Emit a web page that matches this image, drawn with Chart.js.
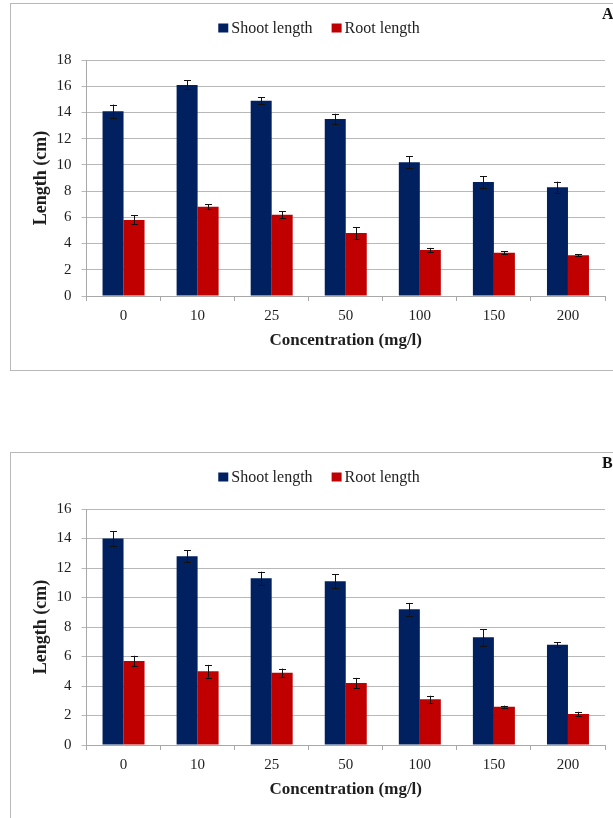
<!DOCTYPE html>
<html>
<head>
<meta charset="utf-8">
<script src="https://cdn.jsdelivr.net/npm/chart.js@4.4.1/dist/chart.umd.min.js"></script>
<style>
  html, body { margin: 0; padding: 0; background: #fff; overflow: hidden; width: 613px; height: 818px; }
  .panel { position: absolute; left: 10px; width: 616px; height: 366px; border: 1px solid #b8b8b8; background: #fff; }
  #panelA { top: 3px; }
  #panelB { top: 452px; }
  canvas { display: block; }
</style>
</head>
<body>
<div class="panel" id="panelA"><canvas id="chartA" width="616" height="366"></canvas></div>
<div class="panel" id="panelB"><canvas id="chartB" width="616" height="366"></canvas></div>
<script>
// Concentrations (mg/l)
const categories = ['0', '10', '25', '50', '100', '150', '200'];

// Panel A: mean lengths (cm) and their error margins
const shootA    = [14.1, 16.1, 14.9, 13.5, 10.2, 8.7, 8.3];
const shootAErr = [0.5, 0.35, 0.25, 0.4, 0.45, 0.43, 0.42];
const rootA     = [5.8, 6.8, 6.2, 4.8, 3.5, 3.3, 3.1];
const rootAErr  = [0.34, 0.2, 0.27, 0.46, 0.17, 0.13, 0.07];

// Panel B: mean lengths (cm) and their error margins
const shootB    = [14.0, 12.8, 11.3, 11.1, 9.2, 7.3, 6.8];
const shootBErr = [0.49, 0.42, 0.45, 0.48, 0.43, 0.56, 0.15];
const rootB     = [5.7, 5.0, 4.9, 4.2, 3.1, 2.6, 2.1];
const rootBErr  = [0.35, 0.43, 0.28, 0.35, 0.24, 0.07, 0.15];

// Value axis ranges
const yMaxA = 18;
const yMaxB = 16;
const yStep = 2;

const seriesNames = ['Shoot length', 'Root length'];
const xTitle = 'Concentration (mg/l)';
const yTitle = 'Length (cm)';

const FONT = "'Liberation Serif', 'Times New Roman', serif";
const TEXT = '#1e1e1e';
const NAVY = '#002060';
const RED = '#c00000';

// Whiskers drawn from each dataset's `errors` array
const errorBars = {
  id: 'errorBars',
  afterDatasetsDraw(chart) {
    const ctx = chart.ctx;
    const y = chart.scales.y;
    ctx.save();
    ctx.strokeStyle = '#111';
    ctx.lineWidth = 1;
    chart.data.datasets.forEach((ds, i) => {
      const meta = chart.getDatasetMeta(i);
      meta.data.forEach((bar, j) => {
        const v = ds.data[j], e = ds.errors[j];
        const x = Math.round(bar.x) + 0.5;
        const yTop = y.getPixelForValue(v + e);
        const yBot = y.getPixelForValue(v - e);
        const cap = 3.5;
        ctx.beginPath();
        ctx.moveTo(x, yTop); ctx.lineTo(x, yBot);
        ctx.moveTo(x - cap, Math.round(yTop) + 0.5); ctx.lineTo(x + cap, Math.round(yTop) + 0.5);
        ctx.moveTo(x - cap, Math.round(yBot) + 0.5); ctx.lineTo(x + cap, Math.round(yBot) + 0.5);
        ctx.stroke();
      });
    });
    ctx.restore();
  }
};

// Legend row across the top, plus the panel letter in the corner
const headerRow = {
  id: 'headerRow',
  afterDraw(chart, args, opts) {
    const ctx = chart.ctx;
    ctx.save();
    ctx.font = '16px ' + FONT;
    ctx.textBaseline = 'middle';
    const sw = 10, sh = 9, gap = 3, itemGap = 19;
    const items = chart.data.datasets.map(ds => ({
      label: ds.label, color: ds.backgroundColor, w: ctx.measureText(ds.label).width
    }));
    const total = items.reduce((s, it) => s + sw + gap + it.w, 0) + itemGap * (items.length - 1);
    let x = chart.width / 2 - total / 2;
    const cy = 24;
    items.forEach(it => {
      ctx.fillStyle = it.color;
      ctx.fillRect(x, cy - sh / 2, sw, sh);
      x += sw + gap;
      ctx.fillStyle = TEXT;
      ctx.textAlign = 'left';
      ctx.fillText(it.label, x, cy + 1);
      x += it.w + itemGap;
    });
    ctx.font = 'bold 16px ' + FONT;
    ctx.fillStyle = '#111';
    ctx.fillText(opts.letter, 591, 11);
    ctx.restore();
  }
};

function makeChart(id, shoot, shootErr, root, rootErr, yMax, letter) {
  return new Chart(document.getElementById(id), {
    type: 'bar',
    data: {
      labels: categories,
      datasets: [
        { label: seriesNames[0], data: shoot, errors: shootErr, backgroundColor: NAVY,
          categoryPercentage: 0.567, barPercentage: 1.0 },
        { label: seriesNames[1], data: root, errors: rootErr, backgroundColor: RED,
          categoryPercentage: 0.567, barPercentage: 1.0 }
      ]
    },
    options: {
      responsive: false,
      animation: false,
      devicePixelRatio: 1,
      layout: { padding: { top: 56, left: 0, right: 22, bottom: 14 } },
      plugins: {
        legend: { display: false },
        tooltip: { enabled: false },
        headerRow: { letter: letter }
      },
      scales: {
        x: {
          afterFit(scale) { scale.height = 60; },
          grid: { drawOnChartArea: false, drawTicks: true, tickLength: 5, color: '#a8a8a8' },
          border: { display: true, color: '#a8a8a8' },
          ticks: { color: TEXT, padding: 6, font: { family: FONT, size: 15 } },
          title: { display: true, text: xTitle, color: TEXT,
                   font: { family: FONT, size: 17, weight: 'bold' }, padding: { top: 0, bottom: 5 } }
        },
        y: {
          min: 0, max: yMax,
          afterFit(scale) { scale.width = 75.5; },
          grid: { color: '#b8b8b8', tickLength: 5, drawTicks: true },
          border: { display: true, color: '#a8a8a8' },
          ticks: { stepSize: yStep, color: TEXT, padding: 10, font: { family: FONT, size: 15 } },
          title: { display: true, text: yTitle, color: TEXT,
                   font: { family: FONT, size: 18, weight: 'bold' }, padding: { top: 20, bottom: 0 } }
        }
      }
    },
    plugins: [errorBars, headerRow]
  });
}

makeChart('chartA', shootA, shootAErr, rootA, rootAErr, yMaxA, 'A');
makeChart('chartB', shootB, shootBErr, rootB, rootBErr, yMaxB, 'B');
</script>
</body>
</html>
